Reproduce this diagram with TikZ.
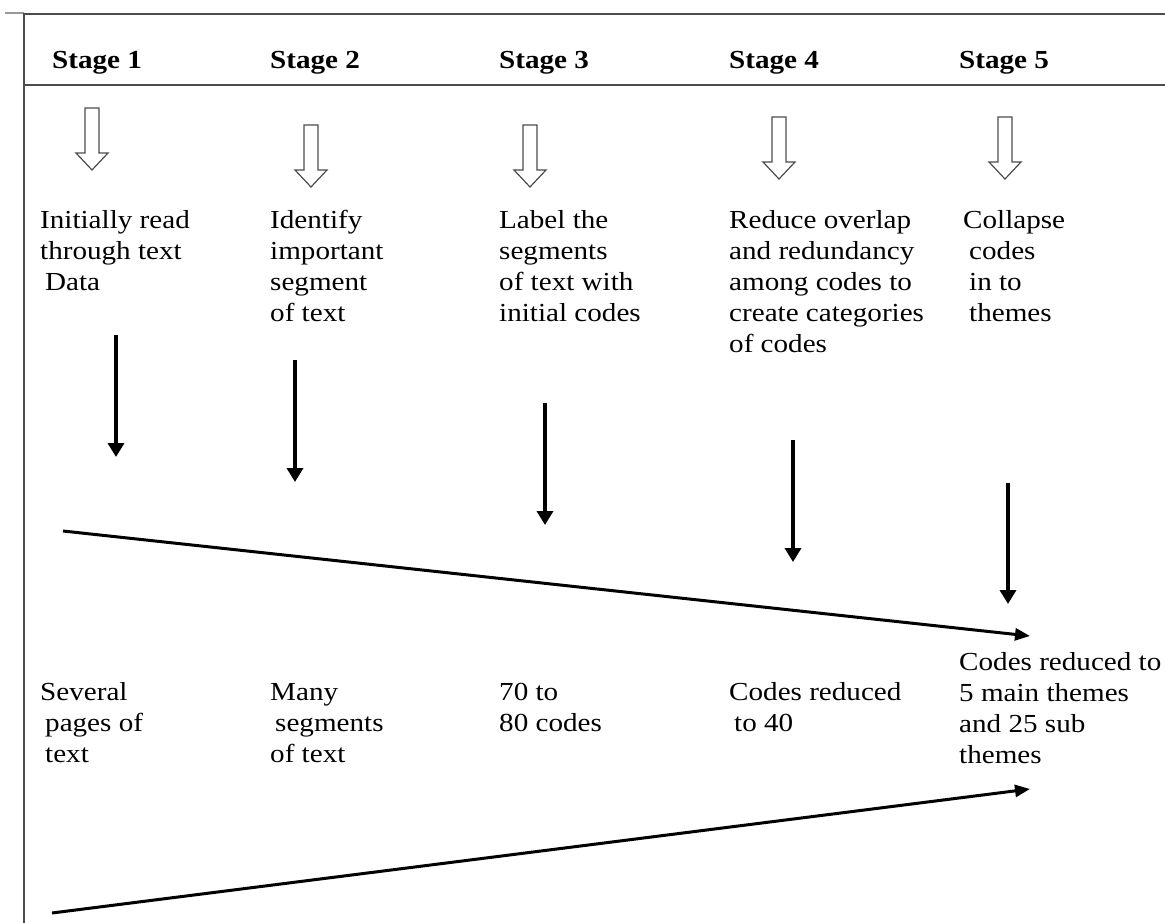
\documentclass[tikz,border=0pt]{standalone}
\usepackage{fontspec}
\setmainfont{Liberation Serif}[FakeStretch=1.12]
\usetikzlibrary{arrows.meta}
\newcommand\hollowarrow[2]{%
  \draw[hollow] (#1-7,#2) -- (#1+7,#2) -- (#1+7,#2+45) -- (#1+16,#2+45) -- (#1,#2+62) -- (#1-16,#2+45) -- (#1-7,#2+45) -- cycle;}
\begin{document}
\begin{tikzpicture}[x=1pt,y=-1pt,
  txt/.style={anchor=base west, align=left, inner sep=0pt, font=\fontsize{26}{31}\selectfont},
  hd/.style={anchor=base west, inner sep=0pt, font=\fontsize{26}{31}\selectfont\bfseries},
  frame/.style={draw=black!70, line width=2pt},
  tick/.style={draw=black!40, line width=1.2pt},
  hollow/.style={draw=black!70, line width=1.2pt, fill=white},
  down/.style={line width=4.2pt, -{Triangle[length=14pt,width=16pt]}},
  long/.style={line width=3pt, -{Triangle[length=15pt,width=12pt]}}]
\useasboundingbox (0,0) rectangle (1165,923);
% frame
\draw[tick] (5,13) -- (24,13);
\draw[frame] (24,923) -- (24,14) -- (1165,14);
\draw[frame] (24,85) -- (1165,85);
% headings
\node[hd] (s1) at (52,69) {Stage 1};
\node[hd] (s2) at (270,69) {Stage 2};
\node[hd] (s3) at (499,69) {Stage 3};
\node[hd] (s4) at (729,69) {Stage 4};
\node[hd] (s5) at (959,69) {Stage 5};
% hollow arrows
\hollowarrow{92}{108}
\hollowarrow{311}{125}
\hollowarrow{530}{125}
\hollowarrow{779}{117}
\hollowarrow{1005}{117}
% stage texts (anchor = baseline of last line)
\node[txt] (t1) at (40,290) {Initially read\\through text\\\hspace*{5pt}Data};
\node[txt] (t2) at (270,321) {Identify\\important\\segment\\of text};
\node[txt] (t3) at (499,321) {Label the\\segments\\of text with\\initial codes};
\node[txt] (t4) at (729,352) {Reduce overlap\\and redundancy\\among codes to\\create categories\\of codes};
\node[txt] (t5) at (963,321) {Collapse\\\hspace*{6pt}codes\\\hspace*{6pt}in to\\\hspace*{6pt}themes};
% black arrows
\coordinate (a1s) at (116,335); \coordinate (a1e) at (116,457);
\coordinate (a2s) at (295,360); \coordinate (a2e) at (295,482);
\coordinate (a3s) at (545,403); \coordinate (a3e) at (545,525);
\coordinate (a4s) at (793,440); \coordinate (a4e) at (793,562);
\coordinate (a5s) at (1008,483); \coordinate (a5e) at (1008,604);
\draw[down] (a1s) -- (a1e);
\draw[down] (a2s) -- (a2e);
\draw[down] (a3s) -- (a3e);
\draw[down] (a4s) -- (a4e);
\draw[down] (a5s) -- (a5e);
% long arrows
\coordinate (l1s) at (63,531); \coordinate (l1e) at (1030,636);
\coordinate (l2s) at (52,913); \coordinate (l2e) at (1030,789);
\draw[long] (l1s) -- (l1e);
\draw[long] (l2s) -- (l2e);
% bottom texts
\node[txt] (b1) at (40,762) {Several\\\hspace*{5pt}pages of\\\hspace*{5pt}text};
\node[txt] (b2) at (270,762) {Many\\\hspace*{5pt}segments\\of text};
\node[txt] (b3) at (499,731) {70 to\\80 codes};
\node[txt] (b4) at (729,731) {Codes reduced\\\hspace*{5pt}to 40};
\node[txt] (b5) at (959,763) {Codes reduced to\\5 main themes\\and 25 sub\\themes};
\end{tikzpicture}
\end{document}
